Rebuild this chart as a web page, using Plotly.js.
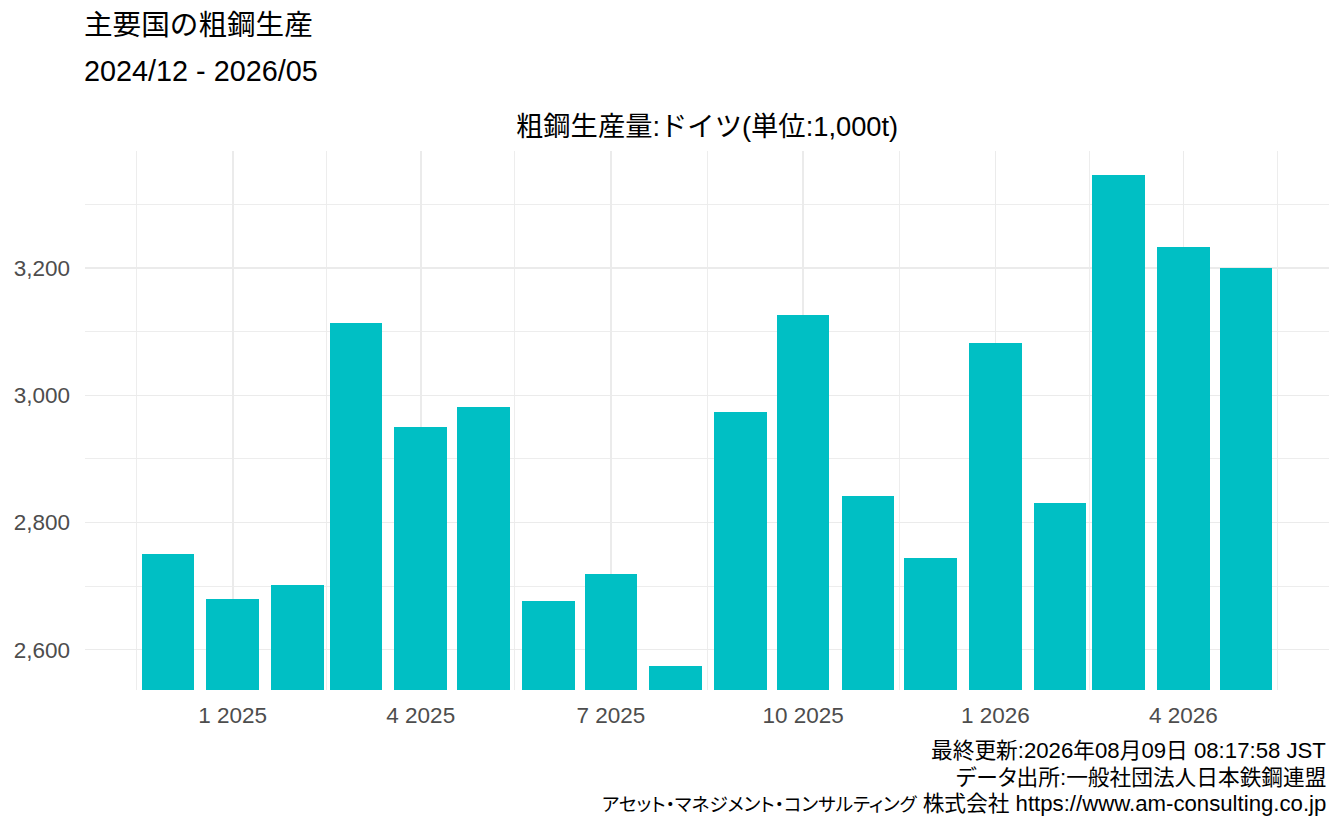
<!DOCTYPE html>
<html>
<head>
<meta charset="utf-8">
<script src="https://cdn.plot.ly/plotly-3.0.1.min.js"></script>
<style>html,body{margin:0;padding:0;background:#fff;}#chart{width:1344px;height:830px;}</style>
</head>
<body>
<div id="chart"></div>
<script>
// ---- data ----
const months = ["2024-12-01","2025-01-01","2025-02-01","2025-03-01","2025-04-01","2025-05-01",
  "2025-06-01","2025-07-01","2025-08-01","2025-09-01","2025-10-01","2025-11-01",
  "2025-12-01","2026-01-01","2026-02-01","2026-03-01","2026-04-01","2026-05-01"];
const production = [2750, 2679, 2701, 3114, 2951, 2982, 2677, 2719, 2575, 2974, 3126, 2841,
  2744, 3083, 2831, 3346, 3233, 3201];
const xTickVals = ["2025-01-01","2025-04-01","2025-07-01","2025-10-01","2026-01-01","2026-04-01"];
const xTickText = ["1 2025","4 2025","7 2025","10 2025","1 2026","4 2026"];
const xMinorVals = ["2024-11-16","2025-02-15","2025-05-16","2025-08-16","2025-11-16","2026-02-15","2026-05-16"];
const yTickVals = [2600, 2800, 3000, 3200];
const yTickText = ["2,600","2,800","3,000","3,200"];
const titleMain = "主要国の粗鋼生産";
const titlePeriod = "2024/12 - 2026/05";
const subtitle = "粗鋼生産量:ドイツ(単位:1,000t)";
const captions = ["最終更新:2026年08月09日 08:17:58 JST",
  "データ出所:一般社団法人日本鉄鋼連盟",
  "アセット・マネジメント・コンサルティング 株式会社 https://www.am-consulting.co.jp"];

// ---- layout helpers ----
const FONT = "Liberation Sans, Arial, 'Noto Sans CJK JP', sans-serif";
const W = 1344, H = 830;
const M = {l: 85, r: 15, t: 151, b: 140};
const plotH = H - M.t - M.b;
const plotW = W - M.l - M.r;
function py(p){ return (H - M.b - p) / plotH; }
const DAY = 86400000;
// render CJK runs of caption text with proportional kana
function cjkStyle(s, kanjiSize, kanaSize){
  return s.replace(/([\u3000-\u30ff\u4e00-\u9fff]+)/g, function(run){
    const kana = /^[\u3000-\u30ff]+$/.test(run) && run.length > 4;
    const size = kana ? kanaSize : kanjiSize;
    return '<span style="font-size:' + size + 'px;font-feature-settings:\'palt\' 1">' + run + '</span>';
  });
}

const trace = {
  type: "bar",
  x: months,
  y: production,
  width: months.map(() => 25.2 * DAY),
  marker: {color: "#00BFC4", line: {width: 0}},
  hoverinfo: "x+y"
};

const annotations = [
  {text: titleMain, xref: "paper", yref: "paper", x: -3/plotW, y: py(25), xanchor: "left", yanchor: "middle", showarrow: false, font: {family: FONT, size: 28.6, color: "#000"}},
  {text: titlePeriod, xref: "paper", yref: "paper", x: -3/plotW, y: py(71), xanchor: "left", yanchor: "middle", showarrow: false, font: {family: FONT, size: 28.8, color: "#000"}},
  {text: subtitle, xref: "paper", yref: "paper", x: 0.5, y: py(127), xanchor: "center", yanchor: "middle", showarrow: false, font: {family: FONT, size: 27.3, color: "#000"}}
];
const capY = [750, 777, 803];
captions.forEach((c, i) => annotations.push({
  text: cjkStyle(c, 21.7, 18.6), xref: "paper", yref: "paper", x: 1 - 1/plotW, y: py(capY[i]), xanchor: "right", yanchor: "middle",
  showarrow: false, font: {family: FONT, size: 22.2, color: "#000"}
}));

const layout = {
  width: W, height: H,
  margin: M,
  paper_bgcolor: "#fff", plot_bgcolor: "#fff",
  showlegend: false,
  bargap: 0,
  font: {family: FONT},
  xaxis: {
    type: "date",
    range: ["2024-10-22 08:00", "2026-06-09 16:00"],
    tickmode: "array", tickvals: xTickVals, ticktext: xTickText,
    showgrid: true, gridcolor: "#EBEBEB", gridwidth: 1.7,
    minor: {tickmode: "array", tickvals: xMinorVals, showgrid: true, gridcolor: "#EBEBEB", gridwidth: 0.9, ticks: ""},
    zeroline: false, showline: false, ticks: "",
    tickfont: {family: FONT, size: 22.5, color: "#4D4D4D"},
    ticklabelstandoff: 9
  },
  yaxis: {
    range: [2536.5, 3384.5],
    tickmode: "array", tickvals: yTickVals, ticktext: yTickText,
    showgrid: true, gridcolor: "#EBEBEB", gridwidth: 1.7,
    minor: {tickmode: "linear", tick0: 2500, dtick: 100, showgrid: true, gridcolor: "#EBEBEB", gridwidth: 0.9, ticks: ""},
    zeroline: false, showline: false, ticks: "",
    tickfont: {family: FONT, size: 22.5, color: "#4D4D4D"},
    ticklabelstandoff: 14
  },
  annotations: annotations
};

Plotly.newPlot("chart", [trace], layout, {displayModeBar: false, staticPlot: true});
</script>
</body>
</html>
